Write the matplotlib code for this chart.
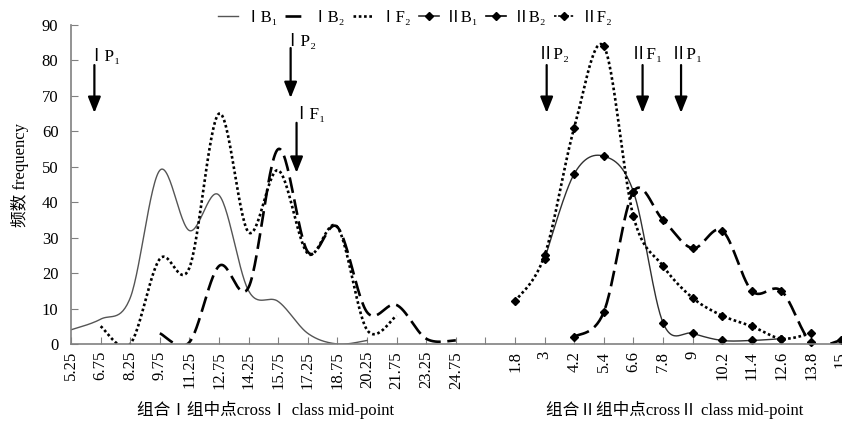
import numpy as np
import matplotlib
matplotlib.use('Agg')
import matplotlib.pyplot as plt
from matplotlib.lines import Line2D

plt.rcParams['font.family'] = ['Liberation Serif', 'Noto Sans CJK SC', 'DejaVu Serif']

# ---- categories ----
left_ticks = ['5.25', '6.75', '8.25', '9.75', '11.25', '12.75', '14.25',
              '15.75', '17.25', '18.75', '20.25', '21.75', '23.25', '24.75']
right_ticks = ['1.8', '3', '4.2', '5.4', '6.6', '7.8', '9', '10.2',
               '11.4', '12.6', '13.8', '15']

# ---- series (start category label + values) ----
IB1_start, IB1 = '5.25', [4, 7, 13, 49, 32, 42, 15, 12, 3, 0, 1]
IB2_start, IB2 = '9.75', [3, 0.5, 22, 16, 55, 26, 33, 9, 11, 1.5, 1]
IF2_start, IF2 = '6.75', [5, 0, 24, 21.5, 65, 31.5, 49, 25.5, 33, 4, 8]
IIB1_start, IIB1 = '3', [24, 48, 53, 43, 6, 3, 1, 1, 1.5]
IIB2_start, IIB2 = '4.2', [2, 9, 43, 35, 27, 32, 15, 15, 0.5, 1]
IIF2_start, IIF2 = '1.8', [12, 25, 61, 84, 36, 22, 13, 8, 5, 1.5, 3]

# ---- annotations ----
ann_labels = ['ⅠP₁', 'ⅠP₂', 'ⅠF₁', 'ⅡP₂', 'ⅡF₁', 'ⅡP₁']
ann_x = [0.79, 7.42, 7.62, 16.07, 19.31, 20.61]
ann_text_x = [0.54, 7.16, 7.47, 15.74, 18.89, 20.24]
ann_text_y = [81, 85.2, 64.6, 81.5, 81.5, 81.5]
ann_tail = [78.7, 83.5, 62.4, 78.7, 78.7, 78.7]
ann_tip = [65.2, 69.4, 48.3, 65.2, 65.2, 65.2]

all_ticks = left_ticks + [''] + right_ticks
left_pos = {t: i for i, t in enumerate(left_ticks)}
right_pos = {t: i + len(left_ticks) + 1 for i, t in enumerate(right_ticks)}


def xs(start, vals, group):
    s = (left_pos if group == 'L' else right_pos)[start]
    return np.arange(s, s + len(vals), dtype=float)


def smooth(x, y, n=30):
    P = np.column_stack([np.asarray(x, float), np.asarray(y, float)])
    ext = np.vstack([P[0], P, P[-1]])
    out = []
    t = np.linspace(0, 1, n)[:, None]
    for i in range(len(P) - 1):
        p0, p1, p2, p3 = ext[i], ext[i + 1], ext[i + 2], ext[i + 3]
        c1 = p1 + (p2 - p0) / 6
        c2 = p2 - (p3 - p1) / 6
        seg = (1 - t) ** 3 * p1 + 3 * (1 - t) ** 2 * t * c1 + 3 * (1 - t) * t ** 2 * c2 + t ** 3 * p2
        out.append(seg if i == 0 else seg[1:])
    return np.vstack(out)


fig = plt.figure(figsize=(8.42, 4.23), dpi=100)
ax = fig.add_axes([71 / 842, 1 - 344 / 423, (840.6 - 71) / 842, (344 - 25) / 423])

dash_long = (0, (6, 2.5))
dots = (0, (1, 1))

styles = [
    ('ⅠB₁', IB1_start, IB1, 'L', dict(color='#555555', lw=1.0, ls='-'), None),
    ('ⅠB₂', IB2_start, IB2, 'L', dict(color='black', lw=1.9, ls=dash_long), None),
    ('ⅠF₂', IF2_start, IF2, 'L', dict(color='black', lw=1.9, ls=dots), None),
    ('ⅡB₁', IIB1_start, IIB1, 'R', dict(color='#303030', lw=1.0, ls='-'), 'D'),
    ('ⅡB₂', IIB2_start, IIB2, 'R', dict(color='black', lw=1.9, ls=dash_long), 'D'),
    ('ⅡF₂', IIF2_start, IIF2, 'R', dict(color='black', lw=1.9, ls=dots), 'D'),
]

handles = []
for label, start, vals, grp, st, mk in styles:
    x = xs(start, vals, grp)
    c = smooth(x, vals)
    ax.plot(c[:, 0], c[:, 1], color=st['color'], lw=st['lw'], linestyle=st['ls'])
    if mk:
        ax.plot(x, vals, linestyle='none', marker=mk, ms=4.5, color='black', clip_on=False)
    handles.append(Line2D([], [], color=st['color'], lw=st['lw'] if not mk else 1.2,
                          linestyle=st['ls'] if not mk else ('-' if st['ls'] != dots else (0, (1.5, 1))),
                          marker=mk if mk else None, ms=4.5, markerfacecolor='black',
                          markeredgecolor='black', label=label))

ax.set_xlim(0, len(all_ticks) - 1)
ax.set_ylim(0, 90)
ax.set_yticks(np.arange(0, 91, 10))
ax.set_xticks(np.arange(len(all_ticks)))
ax.set_xticklabels(all_ticks, rotation=90, fontsize=12)
ax.tick_params(axis='y', labelsize=12, direction='in', length=5, color='#808080', pad=9)
ax.tick_params(axis='x', direction='in', length=5, color='#808080', pad=5)
for s in ['top', 'right']:
    ax.spines[s].set_visible(False)
for s in ['left', 'bottom']:
    ax.spines[s].set_color('#808080')
    ax.spines[s].set_linewidth(1.2)

for lab, x, tx, ty, tail, tip in zip(ann_labels, ann_x, ann_text_x, ann_text_y, ann_tail, ann_tip):
    ax.annotate('', xy=(x, tip), xytext=(x, tail),
                arrowprops=dict(arrowstyle='-|>,head_length=0.8,head_width=0.32',
                                mutation_scale=12, lw=1.6, color='black',
                                shrinkA=0, shrinkB=0))
    ax.text(tx, ty, lab, ha='left', va='center', fontsize=12.5)

fig.legend(handles=handles, loc='center', bbox_to_anchor=(415 / 842, 1 - 18 / 423),
           ncol=6, frameon=False, fontsize=12, handlelength=1.2, handletextpad=0.4,
           columnspacing=0.45, numpoints=1)

fig.text(20 / 842, 1 - 175 / 423, '频数 frequency', rotation=90, ha='center', va='center', fontsize=12)
fig.text(266 / 842, 1 - 410 / 423, '组合Ⅰ组中点crossⅠ class mid-point', ha='center', va='center', fontsize=12)
fig.text(675 / 842, 1 - 410 / 423, '组合Ⅱ组中点crossⅡ class mid-point', ha='center', va='center', fontsize=12)

fig.savefig('out.png', dpi=100)
